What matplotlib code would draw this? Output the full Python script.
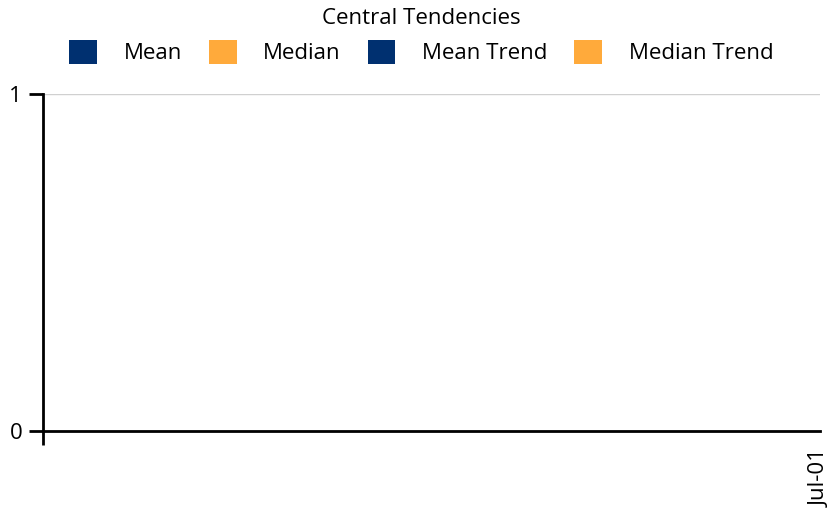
import matplotlib.pyplot as plt
from matplotlib.patches import Patch

plt.rcParams['font.family'] = ['Open Sans', 'DejaVu Sans']

# one reporting period, no values recorded yet
dates = ['Jul-01']
mean_vals = []
median_vals = []
mean_trend = []
median_trend = []

series = ['Mean', 'Median', 'Mean Trend', 'Median Trend']
colors = ['#003070', '#FFAA3B', '#003070', '#FFAA3B']

W, H = 831, 518
fig = plt.figure(figsize=(W / 100, H / 100), dpi=100)
ax = fig.add_axes([43 / W, (H - 431) / H, (820 - 43) / W, (431 - 94) / H])

x = range(1, len(dates) + 1)
ax.plot(list(x)[:len(mean_vals)], mean_vals, color=colors[0])
ax.plot(list(x)[:len(median_vals)], median_vals, color=colors[1])
ax.plot(list(x)[:len(mean_trend)], mean_trend, color=colors[2], ls='--')
ax.plot(list(x)[:len(median_trend)], median_trend, color=colors[3], ls='--')

ax.set_xlim(0, len(dates))
ax.set_ylim(0, 1)
ax.set_xticks(list(x))
ax.set_xticklabels(dates, rotation=90, fontsize=16)
ax.set_xticks([0], minor=True)
ax.set_yticks([0, 1])
ax.set_yticklabels(['0', '1'], fontsize=16)
ax.tick_params(axis='y', length=10, width=2, color='black', pad=5)
ax.tick_params(axis='x', which='major', length=0, pad=13)
ax.tick_params(axis='x', which='minor', length=10, width=2, color='black')

ax.yaxis.grid(True, color='#d0d0d0', lw=1)
ax.set_axisbelow(True)
for s in ['top', 'right']:
    ax.spines[s].set_visible(False)
for s in ['left', 'bottom']:
    ax.spines[s].set_linewidth(2)
    ax.spines[s].set_color('black')

handles = [Patch(facecolor=c, edgecolor='none') for c in colors]
leg = fig.legend(handles, series, loc='upper center', bbox_to_anchor=(0.507, 1.01),
                 ncol=4, frameon=False, fontsize=16, title='Central Tendencies',
                 title_fontsize=16, handlelength=1.25, handleheight=1.25,
                 handletextpad=1.2, columnspacing=1.2, borderaxespad=0.2)

fig.savefig('out.png', dpi=100)
